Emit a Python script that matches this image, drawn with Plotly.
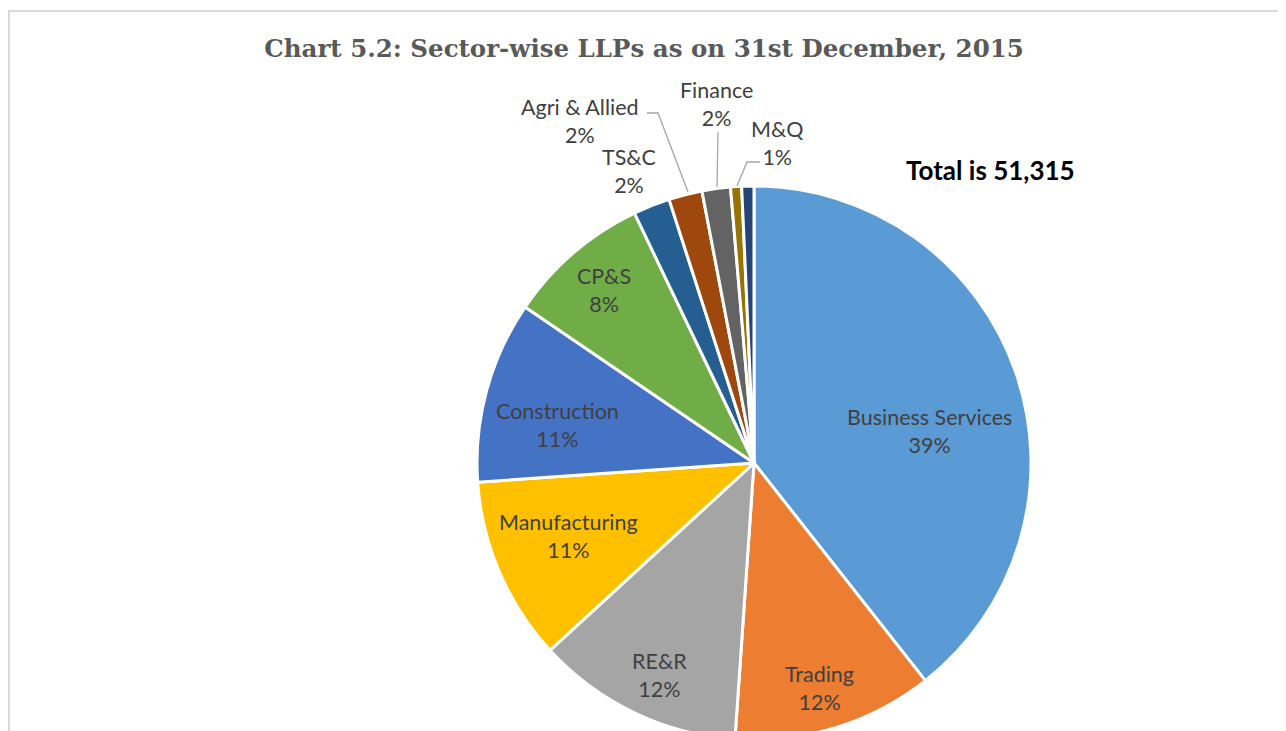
import plotly.graph_objects as go

# sectors, clockwise from 12 o'clock
sectors = ['Business Services', 'Trading', 'RE&R', 'Manufacturing', 'Construction',
           'CP&S', 'TS&C', 'Agri & Allied', 'Finance', 'M&Q', 'Others']
llps = [20210, 6010, 6200, 5500, 5450, 4300, 1100, 1000, 850, 330, 365]
total_llps = 51315

colors = ['#5B9BD5', '#ED7D31', '#A5A5A5', '#FFC000', '#4472C4', '#70AD47',
          '#255E91', '#9E480E', '#636363', '#997300', '#264478']

W, H = 1278, 745
cx, cy, r = 746, 455, 277

fig = go.Figure()

fig.add_trace(go.Pie(
    labels=sectors,
    values=llps,
    sort=False,
    direction='clockwise',
    marker=dict(colors=colors, line=dict(color='white', width=3)),
    textinfo='none',
    domain=dict(x=[(cx - r) / W, (cx + r) / W], y=[(H - cy - r) / H, (H - cy + r) / H]),
    showlegend=False,
    hoverinfo='label+value+percent',
))

# data label placement (px from top-left of the figure)
label_pos = {
    'Business Services': (921, 423),
    'Trading': (811, 680),
    'RE&R': (651, 667),
    'Manufacturing': (560, 528),
    'Construction': (549, 417),
    'CP&S': (596, 282),
    'TS&C': (621, 163),
    'Agri & Allied': (572, 113),
    'Finance': (708, 96),
    'M&Q': (769, 135),
}
# leader lines for the small outside labels (px)
leaders = [
    [(639, 105), (650, 105), (680, 184)],
    [(710, 124), (709, 179)],
    [(752, 154), (739, 154), (729, 178)],
]
label_font = dict(family='Lato', size=21.5, color='#404040')


def to_paper(x, y):
    return x / W, 1 - y / H


annotations = []
for name, (px, py) in label_pos.items():
    pct = round(llps[sectors.index(name)] / total_llps * 100)
    x, y = to_paper(px, py)
    annotations.append(dict(text=f'{name}<br>{pct}%', xref='paper', yref='paper', x=x, y=y,
                            xanchor='center', yanchor='middle', showarrow=False, font=label_font))

x, y = to_paper(982, 162)
annotations.append(dict(text=f'<b>Total is {total_llps:,}</b>', xref='paper', yref='paper',
                        x=x, y=y, xanchor='center', yanchor='middle', showarrow=False,
                        font=dict(family='Lato', size=26, color='black')))

shapes = [dict(type='rect', xref='paper', yref='paper', x0=1 / W, x1=1272 / W, y0=-0.1, y1=1 - 3 / H,
               line=dict(color='#D9D9D9', width=2))]
for pts in leaders:
    path = ' '.join(('M' if i == 0 else 'L') + ' {:.5f},{:.5f}'.format(*to_paper(px, py))
                    for i, (px, py) in enumerate(pts))
    shapes.append(dict(type='path', xref='paper', yref='paper', path=path,
                       line=dict(color='#A6A6A6', width=1.3)))

fig.update_layout(
    width=W, height=H,
    margin=dict(l=0, r=0, t=0, b=0),
    paper_bgcolor='white',
    title=dict(text='<b>Chart 5.2: Sector-wise LLPs as on 31st December, 2015</b>',
               x=636 / W, xanchor='center', y=1 - 40 / H, yanchor='middle',
               font=dict(family='DejaVu Serif', size=24.5, color='#595959')),
    shapes=shapes,
    annotations=annotations,
)

fig.write_html('out.html')
